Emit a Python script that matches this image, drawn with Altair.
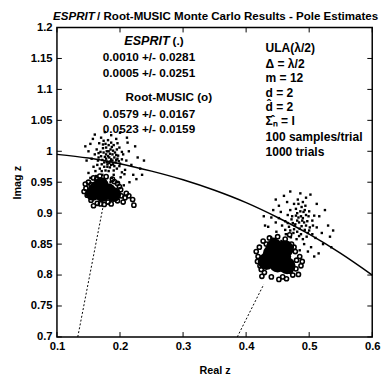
import altair as alt
import pandas as pd

FONT = "Liberation Sans"

# ---------------- data ----------------
x_ticks = [0.1, 0.2, 0.3, 0.4, 0.5, 0.6]
y_ticks = [0.7, 0.75, 0.8, 0.85, 0.9, 0.95, 1.0, 1.05, 1.1, 1.15, 1.2]

circle_x = [0.10, 0.15, 0.20, 0.25, 0.30, 0.35, 0.40, 0.45, 0.50, 0.55, 0.60]
circle_y = [0.995, 0.989, 0.980, 0.968, 0.954, 0.937, 0.917, 0.893, 0.866, 0.835, 0.800]

ray1_x = [0.133, 0.173]
ray1_y = [0.700, 0.910]
ray2_x = [0.386, 0.428]
ray2_y = [0.700, 0.785]

esprit1 = [
    (0.183, 0.990), (0.178, 0.995), (0.188, 0.985), (0.175, 0.982), (0.192, 0.998),
    (0.170, 0.992), (0.185, 1.003), (0.196, 0.988), (0.180, 0.975), (0.165, 0.985),
    (0.200, 0.980), (0.173, 1.005), (0.190, 1.010), (0.160, 0.995), (0.205, 0.995),
    (0.182, 0.968), (0.168, 0.972), (0.195, 0.972), (0.177, 1.012), (0.186, 0.978),
    (0.163, 1.003), (0.210, 0.985), (0.155, 0.988), (0.199, 1.006), (0.172, 0.962),
    (0.190, 0.962), (0.181, 1.018), (0.158, 0.975), (0.208, 0.970), (0.167, 1.013),
    (0.214, 1.000), (0.150, 1.000), (0.194, 1.020), (0.176, 0.955), (0.201, 0.958),
    (0.162, 0.960), (0.218, 0.978), (0.186, 1.026), (0.153, 1.012), (0.221, 0.962),
    (0.228, 0.990), (0.147, 0.985), (0.212, 1.014), (0.170, 1.022), (0.197, 0.950),
    (0.232, 0.972), (0.185, 0.950), (0.157, 1.020), (0.224, 1.008), (0.178, 0.988),
    (0.188, 0.995), (0.174, 0.998), (0.193, 0.982), (0.184, 0.996), (0.179, 0.983),
    (0.171, 0.979), (0.197, 0.993), (0.166, 0.997), (0.203, 0.987), (0.189, 1.001),
    (0.160, 1.027), (0.238, 0.985), (0.226, 0.955), (0.206, 0.945), (0.150, 0.965),
    (0.200, 1.030), (0.145, 1.008), (0.235, 0.962), (0.215, 0.950), (0.176, 1.031),
    (0.181, 0.992), (0.186, 0.987), (0.176, 0.991), (0.191, 0.990), (0.183, 0.981),
    (0.179, 1.000), (0.187, 1.007), (0.194, 0.994), (0.172, 0.986), (0.184, 0.974),
    (0.177, 0.969), (0.191, 0.976), (0.169, 0.999), (0.198, 0.984), (0.182, 1.010),
    (0.164, 0.978), (0.203, 0.999), (0.174, 1.017), (0.196, 1.013), (0.161, 0.968),
    (0.207, 0.963), (0.187, 0.957), (0.168, 0.953), (0.153, 0.957), (0.211, 1.022),
    (0.180, 0.979), (0.185, 0.984), (0.189, 0.979), (0.175, 0.975), (0.194, 0.986),
    (0.171, 0.968), (0.182, 1.000), (0.190, 0.969), (0.178, 1.006), (0.199, 0.976),
    (0.166, 0.990), (0.186, 1.014), (0.203, 0.966), (0.173, 1.011), (0.195, 1.003),
]

esprit2 = [
    (0.478, 0.882), (0.472, 0.890), (0.485, 0.875), (0.468, 0.878), (0.490, 0.892),
    (0.462, 0.887), (0.481, 0.900), (0.495, 0.880), (0.475, 0.868), (0.457, 0.880),
    (0.500, 0.872), (0.470, 0.905), (0.488, 0.910), (0.452, 0.892), (0.505, 0.888),
    (0.480, 0.858), (0.463, 0.866), (0.496, 0.862), (0.476, 0.915), (0.487, 0.866),
    (0.455, 0.902), (0.512, 0.877), (0.447, 0.885), (0.500, 0.903), (0.468, 0.852),
    (0.492, 0.850), (0.482, 0.922), (0.448, 0.870), (0.510, 0.860), (0.465, 0.918),
    (0.516, 0.895), (0.440, 0.893), (0.495, 0.925), (0.474, 0.845), (0.503, 0.845),
    (0.456, 0.855), (0.520, 0.868), (0.486, 0.932), (0.443, 0.905), (0.522, 0.850),
    (0.530, 0.880), (0.435, 0.878), (0.512, 0.915), (0.460, 0.928), (0.498, 0.838),
    (0.533, 0.862), (0.485, 0.840), (0.447, 0.922), (0.525, 0.905), (0.477, 0.880),
    (0.489, 0.888), (0.473, 0.895), (0.493, 0.873), (0.483, 0.893), (0.470, 0.872),
    (0.462, 0.873), (0.499, 0.895), (0.466, 0.897), (0.506, 0.880), (0.491, 0.902),
    (0.430, 0.880), (0.538, 0.872), (0.515, 0.835), (0.508, 0.830), (0.440, 0.860),
    (0.502, 0.930), (0.428, 0.895), (0.535, 0.845), (0.470, 0.935), (0.452, 0.912),
    (0.484, 0.885), (0.479, 0.896), (0.488, 0.879), (0.492, 0.885), (0.481, 0.870),
    (0.486, 0.903), (0.495, 0.897), (0.474, 0.884), (0.498, 0.868), (0.490, 0.858),
    (0.483, 0.915), (0.494, 0.912), (0.505, 0.866), (0.508, 0.896), (0.471, 0.861),
    (0.487, 0.895), (0.481, 0.888), (0.493, 0.905), (0.476, 0.874), (0.497, 0.887),
    (0.501, 0.877), (0.484, 0.863), (0.479, 0.907), (0.490, 0.918), (0.466, 0.884),
]

music1_core = [
    (0.163, 0.940), (0.182, 0.936), (0.172, 0.930), (0.170, 0.946),
    (0.157, 0.932), (0.190, 0.930),
]
music1_ring = [
    (0.146, 0.940), (0.150, 0.950), (0.158, 0.957), (0.168, 0.960), (0.178, 0.959),
    (0.188, 0.955), (0.196, 0.948), (0.201, 0.938), (0.202, 0.928), (0.196, 0.920),
    (0.186, 0.915), (0.175, 0.914), (0.164, 0.916), (0.154, 0.921), (0.148, 0.929),
    (0.208, 0.925), (0.214, 0.928), (0.220, 0.922), (0.222, 0.913), (0.143, 0.935),
    (0.158, 0.912), (0.205, 0.918), (0.154, 0.946), (0.163, 0.955), (0.191, 0.951),
    (0.199, 0.943), (0.181, 0.918), (0.169, 0.915), (0.145, 0.947), (0.210, 0.932),
]

music2_core = [
    (0.440, 0.835), (0.458, 0.830), (0.450, 0.818), (0.465, 0.815),
    (0.445, 0.845), (0.432, 0.822), (0.462, 0.842),
]
music2_ring = [
    (0.419, 0.830), (0.421, 0.845), (0.427, 0.855), (0.437, 0.860), (0.450, 0.862),
    (0.462, 0.858), (0.472, 0.850), (0.478, 0.838), (0.480, 0.824), (0.479, 0.810),
    (0.474, 0.800), (0.464, 0.794), (0.452, 0.793), (0.440, 0.797), (0.429, 0.804),
    (0.422, 0.815), (0.418, 0.822), (0.487, 0.815), (0.485, 0.830), (0.416, 0.838),
    (0.425, 0.798), (0.469, 0.865), (0.483, 0.801), (0.489, 0.822), (0.432, 0.850),
    (0.444, 0.856), (0.470, 0.806), (0.476, 0.845), (0.424, 0.809), (0.458, 0.797),
]

# ---------------- layout ----------------
W, H = 322, 316
xs = alt.Scale(domain=[0.1, 0.6], nice=False, zero=False)
ys = alt.Scale(domain=[0.7, 1.2], nice=False, zero=False)

xaxis = alt.Axis(values=x_ticks, title="Real z", format="~f", ticks=False, tickSize=0,
                 grid=False, domain=False, labelPadding=4, titlePadding=13,
                 labelFlush=False)
yaxis = alt.Axis(values=y_ticks, title="Imag z", format="~f", ticks=False, tickSize=0,
                 grid=False, domain=False, labelPadding=5, titlePadding=8,
                 labelFlush=False)


def pts(pairs):
    return pd.DataFrame(pairs, columns=["x", "y"])


def enc(ch):
    return ch.encode(
        x=alt.X("x:Q", scale=xs, axis=xaxis),
        y=alt.Y("y:Q", scale=ys, axis=yaxis),
    )


circle = enc(alt.Chart(pd.DataFrame({"x": circle_x, "y": circle_y}))
             .mark_line(color="black", strokeWidth=1.5, interpolate="monotone"))
ray1 = enc(alt.Chart(pd.DataFrame({"x": ray1_x, "y": ray1_y}))
           .mark_line(color="black", strokeWidth=1, strokeDash=[2, 2]))
ray2 = enc(alt.Chart(pd.DataFrame({"x": ray2_x, "y": ray2_y}))
           .mark_line(color="black", strokeWidth=1, strokeDash=[2, 2]))

m1core = enc(alt.Chart(pts(music1_core)).mark_circle(color="black", size=230, opacity=1))
m2core = enc(alt.Chart(pts(music2_core)).mark_circle(color="black", size=300, opacity=1))
m1ring = enc(alt.Chart(pts(music1_ring)).mark_point(shape="circle", filled=False, color="black",
                                                    size=18, strokeWidth=1.6, opacity=1))
m2ring = enc(alt.Chart(pts(music2_ring)).mark_point(shape="circle", filled=False, color="black",
                                                    size=18, strokeWidth=1.6, opacity=1))
e1 = enc(alt.Chart(pts(esprit1)).mark_square(color="black", size=6, opacity=1))
e2 = enc(alt.Chart(pts(esprit2)).mark_square(color="black", size=6, opacity=1))

# inward tick marks on all four sides
yt = pd.DataFrame({"y": y_ticks})
xt = pd.DataFrame({"x": x_ticks})
tick_l = alt.Chart(yt).mark_rule(color="black").encode(
    y=alt.Y("y:Q", scale=ys, axis=yaxis), x=alt.value(0), x2=alt.value(5))
tick_r = alt.Chart(yt).mark_rule(color="black").encode(
    y=alt.Y("y:Q", scale=ys, axis=yaxis), x=alt.value(W - 5), x2=alt.value(W))
tick_b = alt.Chart(xt).mark_rule(color="black").encode(
    x=alt.X("x:Q", scale=xs, axis=xaxis), y=alt.value(H - 5), y2=alt.value(H))
tick_t = alt.Chart(xt).mark_rule(color="black").encode(
    x=alt.X("x:Q", scale=xs, axis=xaxis), y=alt.value(0), y2=alt.value(5))

one = pd.DataFrame({"k": [0]})


def txt(s, x, y, align="left", style="normal", weight="bold", size=12):
    return alt.Chart(one).mark_text(
        text=s, align=align, baseline="middle", fontStyle=style, fontWeight=weight,
        fontSize=size, font=FONT, color="black"
    ).encode(x=alt.value(x), y=alt.value(y))


R = 213  # left edge of the right-hand text block (plot coords)
texts = [
    txt("ESPRIT", -4, -12, style="italic", size=11.8),
    txt("/ Root-MUSIC Monte Carlo Results - Pole Estimates", 41, -12, size=11.8),
    txt("ESPRIT", 115, 14, align="right", style="italic", size=12.8),
    txt("(.)", 118, 14),
    txt("0.0010 +/- 0.0281", 94, 30.5, align="center"),
    txt("0.0005 +/- 0.0251", 94, 47, align="center"),
    txt("Root-MUSIC (o)", 70, 71),
    txt("0.0579 +/- 0.0167", 94, 88, align="center"),
    txt("0.0523 +/- 0.0159", 94, 104, align="center"),
    txt("ULA(\u03bb/2)", R, 21, size=12.3),
    txt("\u0394 = \u03bb/2", R, 37, size=12.3),
    txt("m = 12", R, 52, size=12.3),
    txt("d = 2", R, 67, size=12.3),
    txt("d\u0302 = 2", R, 81.5, size=12.3),
    txt("\u03a3\u0302\u2099 = I", R, 96, size=12.3),
    txt("100 samples/trial", R, 112, size=12.3),
    txt("1000 trials", R, 127.5, size=12.3),
]

chart = alt.layer(
    circle, ray1, ray2, m1ring, m2ring, m1core, m2core, e1, e2,
    tick_l, tick_r, tick_b, tick_t, *texts
).properties(
    width=W, height=H,
    autosize=alt.AutoSizeParams(type="none"),
    padding={"left": 50, "top": 16, "right": 11, "bottom": 38},
).configure_view(
    stroke="black", strokeWidth=1.5
).configure_axis(
    labelFont=FONT, labelFontSize=11.5, labelFontWeight="bold", labelColor="black",
    titleFont=FONT, titleFontSize=11, titleFontWeight="bold", titleColor="black",
)

chart.save("out.html", embed_options={"renderer": "svg", "actions": False})
